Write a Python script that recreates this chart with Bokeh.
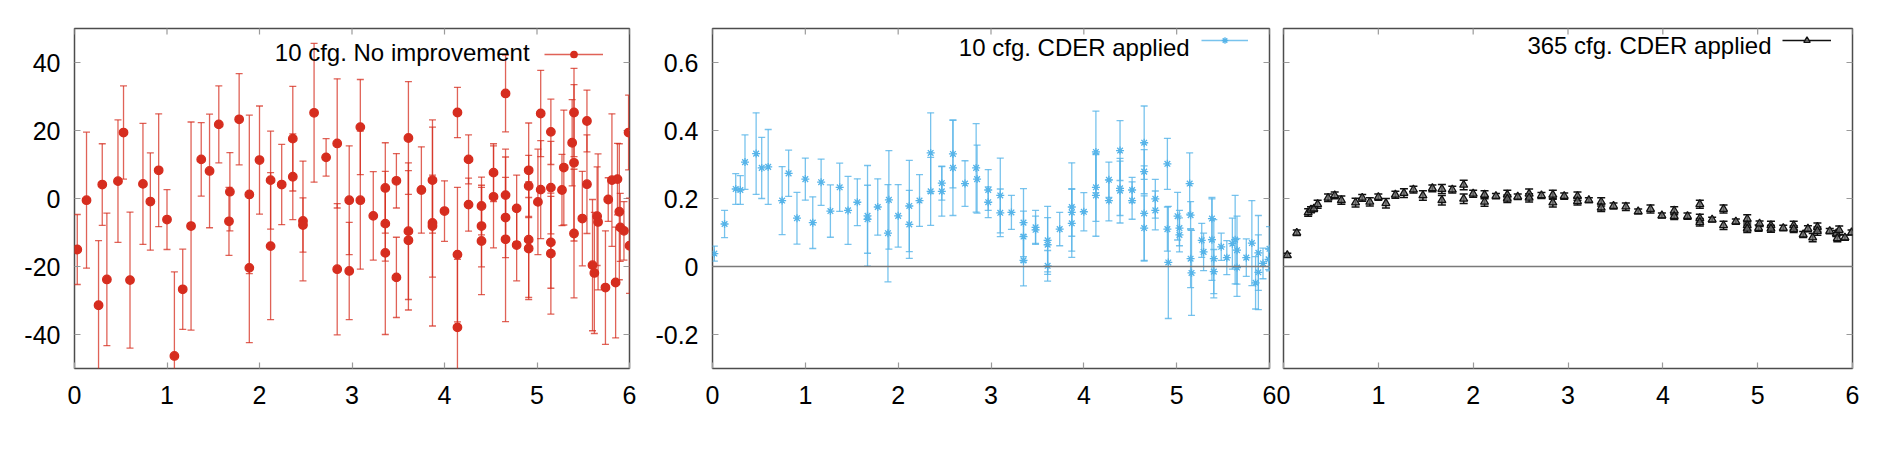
import math

from bokeh.plotting import figure
from bokeh.models import (ColumnDataSource, FixedTicker, Range1d, Span, Label,
                          Legend, LegendItem)
from bokeh.layouts import row
from bokeh.embed import file_html
from bokeh.resources import INLINE

# ---------------------------------------------------------------------------
# Data: 10 configurations, no improvement
# ---------------------------------------------------------------------------
raw_x = [0.03, 0.13, 0.26, 0.30, 0.35, 0.47, 0.53, 0.60, 0.74, 0.82, 0.91, 1.00,
         1.08, 1.17, 1.26, 1.37, 1.46, 1.56, 1.68, 1.67, 1.78, 1.89, 1.89, 2.00,
         2.12, 2.12, 2.24, 2.36, 2.36, 2.47, 2.47, 2.59, 2.72, 2.84, 2.84, 2.97,
         2.97, 3.09, 3.09, 3.23, 3.36, 3.36, 3.36, 3.48, 3.48, 3.61, 3.61, 3.61,
         3.75, 3.87, 3.87, 3.87, 4.00, 4.14, 4.14, 4.14, 4.26, 4.26, 4.40, 4.40,
         4.40, 4.53, 4.53, 4.66, 4.66, 4.66, 4.66, 4.78, 4.78, 4.91, 4.91, 4.91,
         4.91, 5.01, 5.04, 5.04, 5.15, 5.15, 5.15, 5.15, 5.29, 5.27, 5.38, 5.40,
         5.40, 5.40, 5.49, 5.54, 5.54, 5.60, 5.62, 5.65, 5.66, 5.74, 5.77, 5.81,
         5.85, 5.87, 5.89, 5.90, 5.94, 5.99, 6.00]
raw_y = [-15.0, -0.5, -31.4, 4.1, -23.8, 5.1, 19.4, -24.0, 4.3, -0.9, 8.3, -6.2,
         -46.3, -26.7, -8.1, 11.5, 8.1, 21.8, 2.0, -6.7, 23.3, 1.2, -20.4, 11.3,
         5.4, -14.0, 4.1, 17.6, 6.4, -6.6, -7.8, 25.2, 12.1, 16.2, -20.8, -0.5,
         -21.3, 21.0, -0.5, -5.1, 3.1, -7.4, -16.0, 5.2, -23.2, 17.8, -9.6, -12.3,
         2.5, 5.4, -7.2, -8.1, -3.7, 25.3, -16.5, -37.9, 11.5, -1.8, -2.2, -8.1,
         -12.5, 7.6, 0.5, 30.9, 1.0, -5.6, -12.0, -2.9, -13.7, 8.3, 3.7, -12.1,
         -14.7, -1.0, 25.0, 2.6, 19.6, 3.2, -12.9, -16.2, 9.1, 2.5, 16.4, 10.5,
         25.3, -10.3, -5.9, 4.2, 22.8, -19.6, -21.9, -5.2, -6.9, -26.2, -0.3, 5.4,
         -24.7, 5.7, -3.9, -8.5, -9.5, 19.4, -13.9]
raw_err = [10.3, 20.0, 19.0, 12.0, 19.5, 18.0, 13.7, 20.0, 17.8, 14.3, 16.6, 8.8,
           24.7, 11.8, 30.6, 10.8, 16.7, 11.3, 11.5, 10.0, 13.4, 23.3, 22.0, 15.9,
           14.4, 21.6, 11.8, 15.4, 12.6, 17.6, 8.0, 20.4, 5.5, 19.0, 19.3, 16.0,
           14.3, 14.0, 20.3, 13.0, 13.3, 11.0, 24.0, 8.0, 11.8, 16.6, 20.1, 20.5,
           12.7, 15.6, 30.3, 15.0, 8.9, 7.4, 19.8, 20.0, 7.2, 7.8, 8.5, 12.0,
           15.8, 8.5, 15.0, 11.3, 13.5, 11.8, 24.2, 9.8, 10.5, 13.9, 9.0, 17.0,
           15.0, 15.5, 12.7, 14.4, 9.6, 13.6, 13.5, 17.8, 16.9, 10.5, 12.7, 23.0,
           13.0, 18.9, 13.9, 14.5, 9.1, 19.3, 17.8, 14.5, 20.0, 16.7, 6.4, 19.5,
           16.3, 10.5, 20.0, 10.0, 8.6, 11.0, 14.0]

# ---------------------------------------------------------------------------
# Data: 10 configurations, CDER applied
# ---------------------------------------------------------------------------
cder10_x = [0.02, 0.13, 0.25, 0.30, 0.35, 0.47, 0.53, 0.60, 0.75, 0.82, 0.91, 1.00,
            1.08, 1.17, 1.27, 1.37, 1.46, 1.56, 1.67, 1.67, 1.78, 1.89, 1.90, 2.00,
            2.12, 2.12, 2.23, 2.35, 2.35, 2.47, 2.47, 2.59, 2.59, 2.72, 2.84, 2.85,
            2.97, 2.97, 3.10, 3.10, 3.22, 3.35, 3.35, 3.35, 3.48, 3.48, 3.61, 3.61,
            3.61, 3.74, 3.87, 3.87, 3.87, 4.00, 4.13, 4.13, 4.13, 4.27, 4.27, 4.39,
            4.39, 4.39, 4.52, 4.52, 4.65, 4.65, 4.65, 4.65, 4.77, 4.77, 4.90, 4.90,
            4.91, 5.01, 5.03, 5.03, 5.14, 5.15, 5.15, 5.16, 5.27, 5.29, 5.38, 5.38,
            5.40, 5.40, 5.48, 5.54, 5.60, 5.63, 5.65, 5.65, 5.75, 5.81, 5.85, 5.88,
            5.88, 5.93, 6.00, 5.99]
cder10_y = [0.038, 0.125, 0.228, 0.225, 0.307, 0.332, 0.290, 0.293, 0.194, 0.274,
            0.142, 0.257, 0.129, 0.248, 0.163, 0.233, 0.165, 0.189, 0.149, 0.139,
            0.175, 0.098, 0.196, 0.149, 0.178, 0.124, 0.194, 0.334, 0.221, 0.245,
            0.221, 0.331, 0.290, 0.244, 0.290, 0.257, 0.225, 0.189, 0.209, 0.158,
            0.159, 0.129, 0.088, 0.018, 0.115, 0.108, 0.077, 0.064, 0.002, 0.110,
            0.175, 0.159, 0.127, 0.161, 0.337, 0.233, 0.209, 0.255, 0.194, 0.341,
            0.230, 0.223, 0.225, 0.194, 0.364, 0.279, 0.156, 0.113, 0.199, 0.165,
            0.302, 0.110, 0.012, 0.148, 0.113, 0.093, 0.244, 0.151, 0.023, -0.019,
            0.077, 0.043, 0.141, 0.079, 0.023, -0.015, 0.058, 0.026, 0.067, 0.079,
            0.048, -0.003, 0.026, 0.069, -0.048, 0.040, -0.017, 0.009, 0.052, 0.021]
cder10_err = [0.022, 0.040, 0.045, 0.042, 0.080, 0.120, 0.090, 0.110, 0.100, 0.068,
              0.076, 0.062, 0.076, 0.068, 0.077, 0.071, 0.100, 0.069, 0.148, 0.100,
              0.083, 0.143, 0.145, 0.092, 0.134, 0.100, 0.076, 0.118, 0.100, 0.050,
              0.073, 0.100, 0.140, 0.067, 0.130, 0.100, 0.060, 0.045, 0.110, 0.070,
              0.050, 0.100, 0.075, 0.075, 0.050, 0.040, 0.100, 0.080, 0.045, 0.049,
              0.130, 0.070, 0.100, 0.056, 0.120, 0.100, 0.120, 0.052, 0.060, 0.088,
              0.080, 0.095, 0.037, 0.055, 0.108, 0.065, 0.140, 0.095, 0.057, 0.057,
              0.075, 0.065, 0.165, 0.070, 0.052, 0.050, 0.090, 0.040, 0.085, 0.125,
              0.050, 0.055, 0.062, 0.120, 0.115, 0.065, 0.040, 0.050, 0.075, 0.130,
              0.100, 0.085, 0.055, 0.125, 0.077, 0.110, 0.110, 0.045, 0.065, 0.030]

# ---------------------------------------------------------------------------
# Data: 365 configurations, CDER applied
# ---------------------------------------------------------------------------
cder365_x = [0.04, 0.14, 0.26, 0.29, 0.32, 0.36, 0.47, 0.54, 0.61, 0.76, 0.83, 0.91,
             1.00, 1.08, 1.18, 1.27, 1.37, 1.47, 1.57, 1.67, 1.67, 1.78, 1.90, 1.90,
             2.00, 2.12, 2.12, 2.24, 2.36, 2.36, 2.47, 2.59, 2.59, 2.72, 2.84, 2.84,
             2.96, 3.10, 3.10, 3.22, 3.35, 3.35, 3.48, 3.61, 3.74, 3.87, 3.99, 4.12,
             4.12, 4.26, 4.39, 4.39, 4.39, 4.52, 4.64, 4.64, 4.77, 4.89, 4.89, 4.89,
             5.01, 5.02, 5.14, 5.14, 5.27, 5.38, 5.38, 5.48, 5.53, 5.58, 5.63, 5.63,
             5.76, 5.83, 5.86, 5.84, 5.92, 5.99]
cder365_y = [0.033, 0.099, 0.159, 0.167, 0.170, 0.183, 0.202, 0.209, 0.195, 0.188,
             0.202, 0.190, 0.204, 0.186, 0.211, 0.216, 0.226, 0.209, 0.230, 0.228,
             0.195, 0.226, 0.240, 0.199, 0.214, 0.211, 0.190, 0.207, 0.211, 0.199,
             0.205, 0.214, 0.202, 0.209, 0.211, 0.188, 0.207, 0.207, 0.192, 0.195,
             0.190, 0.173, 0.178, 0.176, 0.162, 0.169, 0.150, 0.164, 0.148, 0.148,
             0.183, 0.142, 0.130, 0.138, 0.169, 0.121, 0.132, 0.140, 0.121, 0.111,
             0.113, 0.126, 0.121, 0.111, 0.113, 0.121, 0.110, 0.094, 0.111, 0.085,
             0.116, 0.104, 0.104, 0.097, 0.107, 0.083, 0.085, 0.100]
cder365_err = [0.006, 0.008, 0.011, 0.009, 0.008, 0.012, 0.011, 0.010, 0.012, 0.013,
               0.010, 0.012, 0.009, 0.014, 0.010, 0.013, 0.010, 0.014, 0.010, 0.013,
               0.014, 0.010, 0.014, 0.014, 0.010, 0.012, 0.013, 0.008, 0.013, 0.011,
               0.008, 0.014, 0.012, 0.009, 0.013, 0.013, 0.009, 0.012, 0.011, 0.007,
               0.012, 0.011, 0.009, 0.011, 0.007, 0.012, 0.007, 0.012, 0.010, 0.009,
               0.012, 0.012, 0.011, 0.007, 0.012, 0.012, 0.008, 0.012, 0.012, 0.011,
               0.009, 0.008, 0.012, 0.010, 0.008, 0.012, 0.010, 0.009, 0.009, 0.012,
               0.012, 0.012, 0.008, 0.009, 0.012, 0.010, 0.008, 0.007]

# Axis ticks and labels
x_ticks = [0, 1, 2, 3, 4, 5, 6]
x_tick_labels = ["0", "1", "2", "3", "4", "5", "6"]
raw_y_ticks = [-40, -20, 0, 20, 40]
raw_y_tick_labels = ["-40", "-20", "0", "20", "40"]
cder_y_ticks = [-0.2, 0, 0.2, 0.4, 0.6]
cder_y_tick_labels = ["-0.2", "0", "0.2", "0.4", "0.6"]

legend_titles = ["10 cfg. No improvement", "10 cfg. CDER applied", "365 cfg. CDER applied"]

FONT = "Liberation Sans"
FRAME_COLOR = "#4d4d4d"
TICK_COLOR = "#9a9a9a"
TICK_LEN = 6


def style_axis(axis, ticks, labels, standoff):
    axis.ticker = FixedTicker(ticks=ticks)
    axis.major_label_overrides = {t: s for t, s in zip(ticks, labels)}
    axis.axis_line_color = None
    axis.major_tick_in = TICK_LEN
    axis.major_tick_out = 0
    axis.major_tick_line_color = TICK_COLOR
    axis.major_tick_line_width = 1.2
    axis.minor_tick_line_color = None
    axis.major_label_text_font = FONT
    axis.major_label_text_color = "black"
    axis.major_label_text_font_size = "25px"
    axis.major_label_standoff = standoff


def mirror_ticks(p, x_range, y_range, y_ticks, left_too):
    """Inward tick marks on the edges that carry no labelled axis.

    A dash marker centred on the frame edge is clipped by the frame, so only
    its inner half (TICK_LEN px) stays visible, like a gnuplot mirror tick."""
    xs, ys, angles = [], [], []
    for t in x_ticks:                      # top edge
        xs.append(t); ys.append(y_range[1]); angles.append(math.pi / 2)
    for t in y_ticks:                      # right edge
        xs.append(x_range[1]); ys.append(t); angles.append(0.0)
    if left_too:
        for t in y_ticks:                  # left edge
            xs.append(x_range[0]); ys.append(t); angles.append(0.0)
    src = ColumnDataSource(dict(x=xs, y=ys, angle=angles))
    p.scatter(x="x", y="y", angle="angle", source=src, marker="dash",
              size=2 * TICK_LEN, line_color=TICK_COLOR, line_width=1.2)


def make_panel(xs, ys, es, y_range, y_ticks, y_labels, show_y_axis,
               width, borders, color, bar_alpha, bar_width, cap_size,
               marker, marker_size, marker_fill, marker_fill_alpha,
               title, title_pos, legend_pos, legend_glyph_width, zero_line):
    left, right, top, bottom = borders
    x_range = (0, 6)
    p = figure(width=width, height=450, x_range=Range1d(*x_range),
               y_range=Range1d(*y_range), output_backend="svg",
               toolbar_location=None, min_border_left=left,
               min_border_right=right, min_border_top=top,
               min_border_bottom=bottom)
    p.grid.visible = False
    p.outline_line_color = FRAME_COLOR
    p.outline_line_width = 1.5
    p.background_fill_color = "white"
    p.border_fill_color = "white"

    style_axis(p.xaxis[0], x_ticks, x_tick_labels, 17)
    if show_y_axis:
        style_axis(p.yaxis[0], y_ticks, y_labels, 14)
    else:
        p.yaxis.visible = False

    mirror_ticks(p, x_range, y_range, y_ticks, not show_y_axis)

    if zero_line:
        p.add_layout(Span(location=0, dimension="width", line_color="#7a7a7a",
                          line_width=1.5))

    lower = [y - e for y, e in zip(ys, es)]
    upper = [y + e for y, e in zip(ys, es)]
    src = ColumnDataSource(dict(x=xs, y=ys, lower=lower, upper=upper))

    bars = p.segment(x0="x", y0="lower", x1="x", y1="upper", source=src,
                     line_color=color, line_alpha=bar_alpha, line_width=bar_width)
    for end in ("lower", "upper"):
        p.scatter(x="x", y=end, source=src, marker="dash", size=cap_size,
                  line_color=color, line_alpha=bar_alpha, line_width=bar_width)
    pts = p.scatter(x="x", y="y", source=src, marker=marker, size=marker_size,
                    line_color=color, fill_color=marker_fill,
                    fill_alpha=marker_fill_alpha, line_width=1.3)

    p.add_layout(Label(x=title_pos[0], y=title_pos[1], text=title,
                       text_font=FONT, text_font_size="24px",
                       text_color="black", text_align="right",
                       text_baseline="middle"))

    legend = Legend(items=[LegendItem(label=" ", renderers=[bars, pts])],
                    location=legend_pos, glyph_width=legend_glyph_width,
                    glyph_height=16, label_width=0, label_standoff=0,
                    label_text_font_size="1px", padding=0, margin=0,
                    spacing=0, border_line_color=None,
                    background_fill_alpha=0)
    p.add_layout(legend)
    return p


p1 = make_panel(raw_x, raw_y, raw_err, (-50, 50), raw_y_ticks, raw_y_tick_labels,
                True, 648, (74, 19, 28, 82), "#d62d1f", 0.75, 1.3, 7,
                "circle", 8.5, "#d62d1f", 1.0, legend_titles[0], (4.92, 42.9),
                (470, 306), 59, False)
p2 = make_panel(cder10_x, cder10_y, cder10_err, (-0.3, 0.7), cder_y_ticks,
                cder_y_tick_labels, True, 628, (64, 7, 24, 78), "#56b4e9", 0.8,
                1.3, 7, "asterisk", 8, "#56b4e9", 1.0, legend_titles[1],
                (5.14, 0.645), (489, 320), 47, True)
p3 = make_panel(cder365_x, cder365_y, cder365_err, (-0.3, 0.7), cder_y_ticks,
                cder_y_tick_labels, False, 608, (7, 32, 26, 77), "#111111", 1.0,
                1.5, 8, "triangle", 8, "#6e6e6e", 0.8, legend_titles[2],
                (5.146, 0.651), (499, 320), 49, True)

layout = row(p1, p2, p3)
open("out.html", "w").write(file_html(layout, INLINE))
